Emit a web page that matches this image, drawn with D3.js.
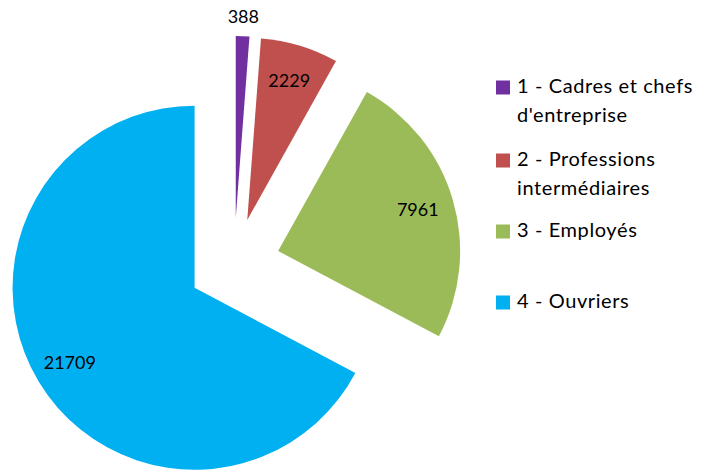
<!DOCTYPE html>
<html>
<head>
<meta charset="utf-8">
<script src="https://cdn.jsdelivr.net/npm/d3@7"></script>
<style>
  body { margin: 0; background: #fff; }
  svg { display: block; font-family: Lato, "Open Sans", sans-serif; }
</style>
</head>
<body>
<svg id="chart"></svg>
<script>
// categories, values and colours
const categories = ["1 - Cadres et chefs d'entreprise", "2 - Professions intermédiaires", "3 - Employés", "4 - Ouvriers"];
const legendLines = [["1 - Cadres et chefs", "d'entreprise"], ["2 - Professions", "intermédiaires"], ["3 - Employés"], ["4 - Ouvriers"]];
const values = [388, 2229, 7961, 21709];
const colors = ["#7030A0", "#C0504D", "#9BBB59", "#00B0F0"];

const width = 709, height = 470;
const center = {x: 234, y: 264};
const radius = 182;
const explode = 46;

const svg = d3.select("#chart")
    .attr("width", width)
    .attr("height", height);

const data = values.map((v, i) => ({name: categories[i], value: v, color: colors[i], lines: legendLines[i]}));

const pie = d3.pie()
    .sort(null)
    .value(d => d.value);

const arc = d3.arc()
    .innerRadius(0)
    .outerRadius(radius);

const arcs = pie(data);

// direction of slice bisector (d3 angles: clockwise from 12 o'clock)
function dir(d) {
  const a = (d.startAngle + d.endAngle) / 2;
  return [Math.sin(a), -Math.cos(a)];
}

const g = svg.append("g")
    .attr("transform", "translate(" + center.x + "," + center.y + ")");

const slices = g.selectAll("g.slice")
  .data(arcs)
  .enter().append("g")
    .attr("class", "slice")
    .attr("transform", d => {
      const v = dir(d);
      return "translate(" + v[0] * explode + "," + v[1] * explode + ")";
    });

slices.append("path")
    .attr("d", arc)
    .attr("fill", d => d.data.color);

// labels: inside near the end, or outside when the slice is too thin
slices.append("text")
    .attr("text-anchor", "middle")
    .attr("dy", "0.35em")
    .attr("font-size", 18)
    .attr("fill", "#000")
    .attr("transform", d => {
      const v = dir(d);
      const span = (d.endAngle - d.startAngle) * radius * 0.8;
      const dist = span < 45 ? radius + 19 : radius * 0.8;
      return "translate(" + v[0] * dist + "," + v[1] * dist + ")";
    })
    .text(d => d.data.value);

// legend
const legendBase = [93, 166, 237, 308];
const legend = svg.append("g")
    .attr("class", "legend");

const item = legend.selectAll("g")
  .data(data)
  .enter().append("g")
    .attr("transform", (d, i) => "translate(496," + legendBase[i] + ")");

item.append("rect")
    .attr("x", 0)
    .attr("y", -12.5)
    .attr("width", 14)
    .attr("height", 14)
    .attr("fill", d => d.color);

item.append("text")
    .attr("x", 21)
    .attr("font-size", 20)
    .attr("letter-spacing", 0.6)
    .attr("fill", "#000")
    .selectAll("tspan")
    .data(d => d.lines)
    .enter().append("tspan")
      .attr("x", 21)
      .attr("y", (l, j) => j * 29)
      .text(l => l);
</script>
</body>
</html>
